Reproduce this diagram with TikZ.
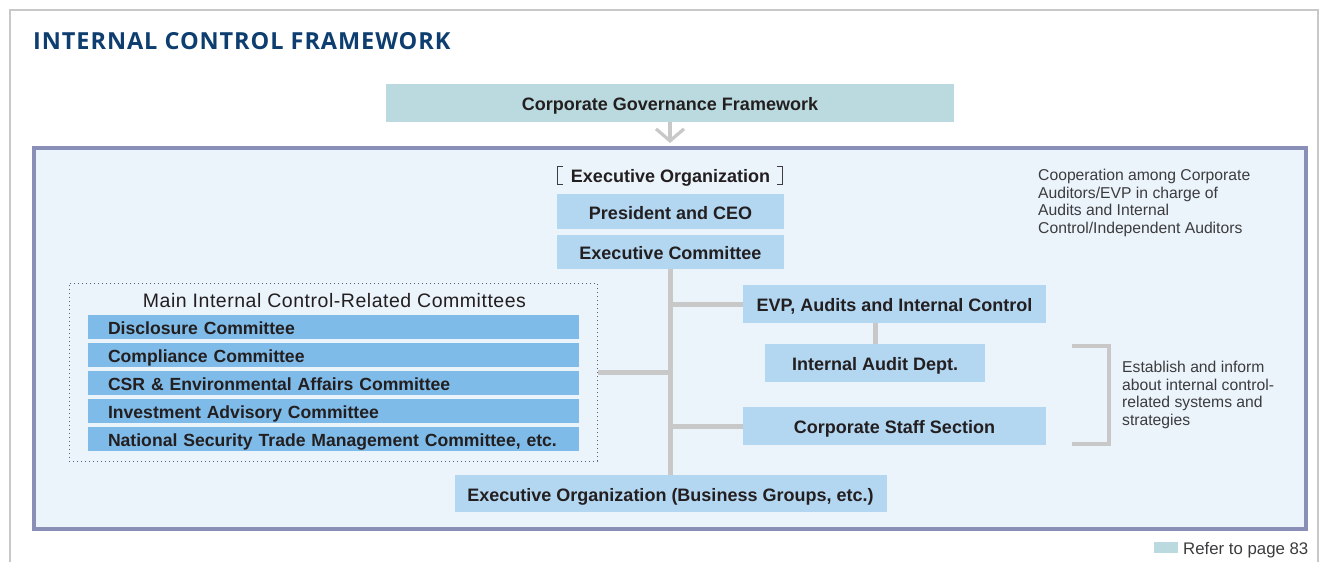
\documentclass[tikz,border=0pt]{standalone}
\usepackage{fontspec}
\setmainfont{Liberation Sans}
\newfontfamily\headfont{Open Sans}[LetterSpace=4]
\usepackage{tikz}
\usetikzlibrary{arrows.meta,positioning}
\definecolor{headblue}{RGB}{14,62,112}
\definecolor{govteal}{RGB}{187,218,223}
\definecolor{orgblue}{RGB}{179,214,241}
\definecolor{cmtblue}{RGB}{127,187,232}
\definecolor{panelblue}{RGB}{235,243,251}
\definecolor{frameblue}{RGB}{138,143,184}
\definecolor{linkgray}{RGB}{200,200,200}
\definecolor{inkdark}{RGB}{35,31,32}
\definecolor{inknote}{RGB}{60,60,62}
\definecolor{dotblue}{RGB}{80,95,130}

\begin{document}
\begin{tikzpicture}[x=1pt,y=-1pt,
  orgbox/.style={fill=orgblue,text=inkdark,inner sep=0pt,minimum height=38pt,
    text height=15pt,text depth=0pt,font=\bfseries\fontsize{18}{20}\selectfont},
  cmtbar/.style={fill=cmtblue,text=inkdark,minimum height=24pt,text width=451pt,
    text height=14.6pt,text depth=0pt,inner xsep=20pt,inner ysep=0pt,align=left,
    font=\bfseries\fontsize{17.6}{20}\selectfont},
  link/.style={draw=linkgray,line width=5pt},
  note/.style={text=inknote,align=left,inner sep=0pt,anchor=north west,
    font=\fontsize{15.7}{17.6}\selectfont}]
  \useasboundingbox (0,0) rectangle (1331,562);
  % page frame, open at the bottom
  \draw[linkgray,line width=2pt] (10,562) -- (10,10) -- (1318,10) -- (1318,562);
  \node[anchor=base west,inner sep=0pt,text=headblue,
        font=\headfont\bfseries\fontsize{23.5}{26}\selectfont] (title) at (33,49)
        {INTERNAL CONTROL FRAMEWORK};
  % governance box and arrow into the panel
  \node[orgbox,fill=govteal,minimum width=568pt] (cgf) at (670,103)
        {Corporate Governance Framework};
  \coordinate (arrtip) at (670,143);
  \draw[linkgray,line width=3.2pt,-{Straight Barb[length=12pt,width=28pt]}]
        (cgf.south) -- (arrtip);
  % executive panel
  \draw[frameblue,line width=4pt,fill=panelblue] (33.5,148) rectangle (1306,529);
  \node[inner sep=0pt,text=inkdark,text height=15pt,text depth=0pt,
        font=\bfseries\fontsize{18}{20}\selectfont] (execlbl) at (670.5,175)
        {Executive Organization};
  \draw[inknote,line width=0.8pt] (563,166) -- (557.5,166) -- (557.5,184) -- (563,184);
  \draw[inknote,line width=0.8pt] (777,166) -- (782.5,166) -- (782.5,184) -- (777,184);
  \node[orgbox,minimum width=227pt,minimum height=35pt] (ceo) at (670.5,211.5)
        {President and CEO};
  \node[orgbox,minimum width=227pt,minimum height=34pt] (excom) at (670.5,252)
        {Executive Committee};
  \node[orgbox,minimum width=303pt] (evp) at (894.5,304)
        {EVP, Audits and Internal Control};
  \node[orgbox,minimum width=220pt] (iad) at (875,363) {Internal Audit Dept.};
  \node[orgbox,minimum width=303pt] (css) at (894.5,426) {Corporate Staff Section};
  \node[orgbox,minimum width=432pt,minimum height=37pt] (bgo) at (670.5,493.5)
        {Executive Organization (Business Groups, etc.)};
  % committees
  \node[draw=dotblue,line width=1pt,dash pattern=on 1.2pt off 2.8pt,
        minimum width=528pt,minimum height=178pt] (cmtframe) at (333,372) {};
  \node[text=inkdark,inner sep=0pt,text height=14pt,text depth=0pt,
        font=\fontsize{19.5}{22}\selectfont\addfontfeature{LetterSpace=2.7}]
        (cmttitle) at (334.5,300) {Main Internal Control-Related Committees};
  \foreach \i/\txt in {1/Disclosure Committee,2/Compliance Committee,
                       3/CSR \& Environmental Affairs Committee,
                       4/Investment Advisory Committee,
                       5/{National Security Trade Management Committee, etc.}}
    \node[cmtbar] (cmt\i) at (333.5,299+28*\i) {\txt};
  % connectors
  \draw[link] (excom.south) -- (bgo.north);
  \draw[link] (evp.west) -- (evp.west -| excom.south);
  \draw[link] (css.west) -- (css.west -| excom.south);
  \draw[link] (cmtframe.east) -- (cmtframe.east -| excom.south);
  \draw[link] (evp.south -| iad.north) -- (iad.north);
  % notes on the right
  \node[note] (coop) at (1038,169) {Cooperation among Corporate\\Auditors/EVP in charge of\\
        Audits and Internal\\Control/Independent Auditors};
  \draw[linkgray,line width=4pt] (1072,346) -- (1109,346) -- (1109,444) -- (1072,444);
  \node[note] (inform) at (1122,361) {Establish and inform\\about internal control-\\
        related systems and\\strategies};
  % legend
  \fill[govteal] (1154,542) rectangle (1178,553);
  \node[anchor=base west,inner sep=0pt,text=inknote,font=\fontsize{16.8}{18}\selectfont]
        (refer) at (1183,554) {Refer to page 83};
\end{tikzpicture}
\end{document}
